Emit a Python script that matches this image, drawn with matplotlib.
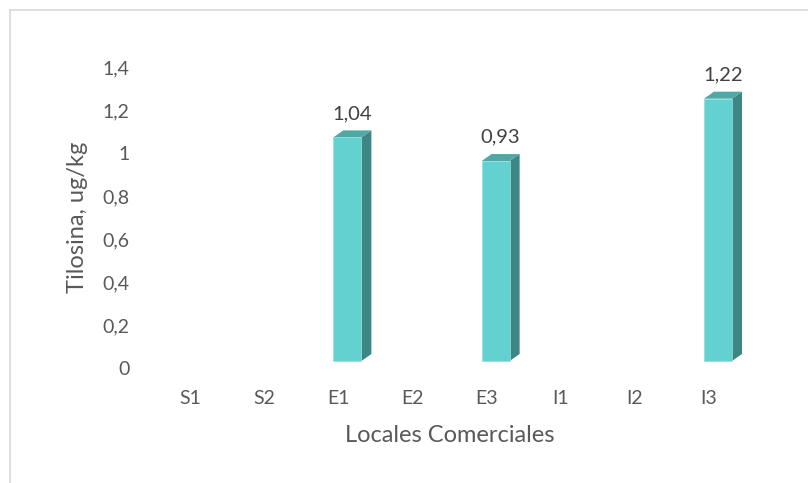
import matplotlib
matplotlib.use("Agg")
import matplotlib.pyplot as plt
from matplotlib.patches import Polygon
from matplotlib.lines import Line2D
import matplotlib.transforms as mtrans

plt.rcParams['font.family'] = ['Lato', 'DejaVu Sans']

locales = ['S1', 'S2', 'E1', 'E2', 'E3', 'I1', 'I2', 'I3']
tilosina = [None, None, 1.04, None, 0.93, None, None, 1.22]
yticks = [0, 0.2, 0.4, 0.6, 0.8, 1.0, 1.2, 1.4]

front_col = '#62d1cf'
side_col = '#3d8683'
top_col = '#4fa8a5'
text_col = '#595959'

fig = plt.figure(figsize=(8.08, 4.83), dpi=100)
ax = fig.add_axes([153/808, 1 - 368/483, 593/808, 301/483])
ax.set_xlim(-0.5, len(locales) - 0.5)
ax.set_ylim(0, 1.4)

# boxes sit slightly up and left of the category slot (pseudo-3D floor)
shift = mtrans.offset_copy(ax.transData, fig=fig, x=-5, y=7, units='dots')
bar_w = 28 / 74  # front width in category units
dx = 10 / 74
dy = 7 / 215.0  # depth rise in data units (215 px per unit)

for i, v in enumerate(tilosina):
    if v is None:
        continue
    x0 = i
    x1 = i + bar_w
    front = Polygon([(x0, 0), (x1, 0), (x1, v), (x0, v)], closed=True,
                    facecolor=front_col, edgecolor='#8fe0de', lw=0.5, transform=shift)
    side = Polygon([(x1, 0), (x1 + dx, dy), (x1 + dx, v + dy), (x1, v)], closed=True,
                   facecolor=side_col, edgecolor='none', transform=shift)
    top = Polygon([(x0, v), (x1, v), (x1 + dx, v + dy), (x0 + dx, v + dy)], closed=True,
                  facecolor=top_col, edgecolor='none', transform=shift)
    for p in (side, top, front):
        ax.add_patch(p)
    ax.annotate(('%.2f' % v).replace('.', ','), xy=(i + bar_w / 2 + dx / 2, v + dy),
                xycoords=shift, xytext=(0, 6), textcoords='offset points',
                ha='center', va='bottom', fontsize=14.5, color='#404040')

ax.set_xticks(range(len(locales)))
ax.set_xticklabels(locales)
ax.set_yticks(yticks)
ax.set_yticklabels(['0' if t == 0 else ('1' if t == 1 else ('%.1f' % t).replace('.', ','))
                    for t in yticks])
ax.tick_params(axis='both', length=0, labelsize=14, labelcolor=text_col)
ax.tick_params(axis='x', pad=16)
ax.tick_params(axis='y', pad=17)
for s in ax.spines.values():
    s.set_visible(False)

ax.set_xlabel('Locales Comerciales', fontsize=17, color=text_col, labelpad=13)
ax.set_ylabel('Tilosina, ug/kg', fontsize=17, color=text_col, labelpad=10)

# chart frame (top and left edges only)
fig.add_artist(Line2D([9.5/808, 1], [1 - 9.5/483] * 2, color='#d9d9d9', lw=1.2,
                      transform=fig.transFigure))
fig.add_artist(Line2D([9.5/808] * 2, [0, 1 - 9.5/483], color='#d9d9d9', lw=1.2,
                      transform=fig.transFigure))

fig.savefig('out.png', dpi=100)
